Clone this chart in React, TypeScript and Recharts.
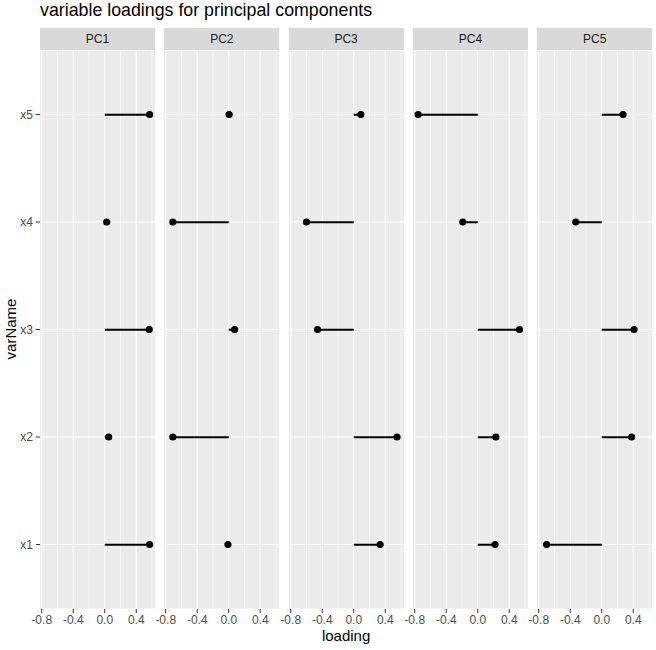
import React from "react";
import { ComposedChart, Bar, Line, XAxis, YAxis, CartesianGrid } from "recharts";

// variables, top to bottom as they appear
const varNames = ["x5", "x4", "x3", "x2", "x1"];
const components = ["PC1", "PC2", "PC3", "PC4", "PC5"];

// loadings per component, same order as varNames
const pc1 = [0.57, 0.025, 0.565, 0.05, 0.57];
const pc2 = [0.005, -0.71, 0.075, -0.71, -0.01];
const pc3 = [0.09, -0.6, -0.46, 0.55, 0.335];
const pc4 = [-0.756, -0.19, 0.53, 0.23, 0.22];
const pc5 = [0.27, -0.33, 0.41, 0.38, -0.7];

const xTicks = [-0.8, -0.4, 0, 0.4];
const xMinor = [-0.6, -0.2, 0.2, 0.6];

const loadings = [pc1, pc2, pc3, pc4, pc5];

const FONT = '"Liberation Sans", Arial, Helvetica, sans-serif';
const PANEL_W = 115;
const PANEL_GAP = 9.3;
const PANEL_X0 = 40;
const PANEL_TOP = 50;
const PANEL_H = 559;
const AXIS_H = 30;

function Panel({ index }: { index: number }) {
  const data = varNames.map((v, i) => ({ varName: v, loading: loadings[index][i] }));
  const first = index === 0;
  const left = PANEL_X0 + index * (PANEL_W + PANEL_GAP);
  return (
    <div style={{ position: "absolute", left: left - 40, top: PANEL_TOP }}>
      <ComposedChart
        width={40 + PANEL_W + 15}
        height={PANEL_H + AXIS_H}
        data={data}
        layout="vertical"
        margin={{ top: 0, right: 15, bottom: 0, left: first ? 0 : 40 }}
      >
        <CartesianGrid
          fill="#EBEBEB"
          stroke="#FFFFFF"
          strokeWidth={0.55}
          horizontal={false}
          verticalValues={xMinor}
        />
        <CartesianGrid
          fill="none"
          stroke="#FFFFFF"
          strokeWidth={1.1}
          verticalValues={xTicks}
        />
        <XAxis
          type="number"
          dataKey="loading"
          domain={[-0.822, 0.638]}
          allowDataOverflow
          ticks={xTicks}
          interval={0}
          tickFormatter={(v: number) => v.toFixed(1)}
          height={AXIS_H}
          axisLine={false}
          tickSize={4}
          tickMargin={2}
          tickLine={{ stroke: "#333333" }}
          tick={{ fill: "#4D4D4D", fontSize: 12, fontFamily: FONT }}
        />
        <YAxis
          type="category"
          dataKey="varName"
          hide={!first}
          width={40}
          padding={{ top: 10.75, bottom: 10.75 }}
          axisLine={false}
          tickSize={4}
          tickMargin={3}
          tickLine={{ stroke: "#333333" }}
          tick={{ fill: "#4D4D4D", fontSize: 12, fontFamily: FONT }}
        />
        <Bar dataKey="loading" fill="#000000" barSize={2} isAnimationActive={false} />
        <Line
          dataKey="loading"
          stroke="none"
          dot={{ r: 3.6, fill: "#000000", stroke: "#000000", strokeWidth: 0 }}
          activeDot={false}
          isAnimationActive={false}
        />
      </ComposedChart>
      <div
        style={{
          position: "absolute",
          left: 40,
          top: -22,
          width: PANEL_W,
          height: 22,
          background: "#D9D9D9",
          color: "#1A1A1A",
          fontSize: 12,
          fontFamily: FONT,
          lineHeight: "22px",
          textAlign: "center",
        }}
      >
        {components[index]}
      </div>
    </div>
  );
}

export default function App() {
  return (
    <div
      style={{
        position: "absolute",
        left: 0,
        top: 0,
        width: 656,
        height: 650,
        background: "#FFFFFF",
        fontFamily: FONT,
        overflow: "hidden",
      }}
    >
      <div style={{ position: "absolute", left: 40, top: 0, fontSize: 17.8, color: "#000", lineHeight: "20px" }}>
        variable loadings for principal components
      </div>
      {components.map((c, i) => (
        <Panel key={c} index={i} />
      ))}
      <div
        style={{
          position: "absolute",
          left: PANEL_X0,
          width: 5 * PANEL_W + 4 * PANEL_GAP,
          top: 627,
          textAlign: "center",
          fontSize: 15,
          color: "#000",
        }}
      >
        loading
      </div>
      <div
        style={{
          position: "absolute",
          left: 10,
          top: 329,
          transform: "translate(-50%, -50%) rotate(-90deg)",
          fontSize: 15,
          color: "#000",
          whiteSpace: "nowrap",
        }}
      >
        varName
      </div>
    </div>
  );
}
